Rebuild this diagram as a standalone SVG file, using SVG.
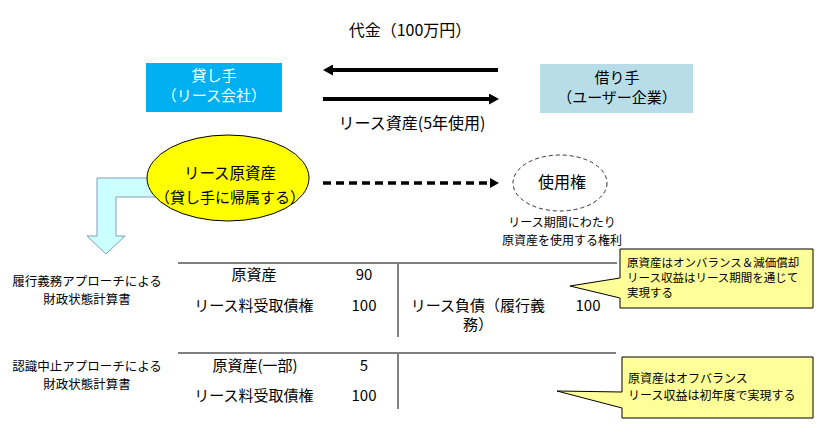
<svg xmlns="http://www.w3.org/2000/svg" width="822" height="427" viewBox="0 0 822 427">
<defs>
<style>
text{font-family:"Noto Sans CJK JP","Noto Sans",sans-serif;fill:#000;}
.c{text-anchor:middle;}
.f16{font-size:16px;}
.f15{font-size:15px;}
.f13{font-size:12.5px;}
.f12{font-size:12px;}
.w{fill:#fff;}
.arr{stroke:#000;stroke-width:4;fill:none;}
.tbl{stroke:#808080;stroke-width:2;fill:none;}
.call{fill:#FFFF99;stroke:#000;stroke-width:1;}
</style>
<marker id="ah" viewBox="0 0 10 11" refX="0" refY="5.5" markerWidth="10" markerHeight="11" markerUnits="userSpaceOnUse" orient="auto">
<path d="M0,0 L10,5.5 L0,11 Z" fill="#000"/>
</marker>
<marker id="ahs" viewBox="0 0 9 10" refX="0" refY="5" markerWidth="9" markerHeight="10" markerUnits="userSpaceOnUse" orient="auto">
<path d="M0,0 L9,5 L0,10 Z" fill="#000"/>
</marker>
</defs>
<rect width="822" height="427" fill="#fff"/>

<g id="connectors">
<line class="arr" x1="498" y1="70" x2="333" y2="70" marker-end="url(#ah)"/>
<line class="arr" x1="323" y1="99" x2="489" y2="99" marker-end="url(#ah)"/>
<line x1="323" y1="183" x2="490" y2="183" stroke="#000" stroke-width="3.5" stroke-dasharray="8,5" marker-end="url(#ahs)"/>
<path id="bent-arrow" d="M165,178 L97,178 L97,236 L87,236 L106,254 L125,236 L116,236 L116,197 L165,197 Z" fill="#CCFFFF" stroke="#7F9FBF" stroke-width="1"/>
</g>

<g id="label-payment">
<text class="c f16" x="410" y="36">代金（100万円）</text>
</g>
<g id="label-asset">
<text class="c f16" x="412" y="129">リース資産(5年使用)</text>
</g>

<g id="lessor">
<rect x="146" y="63" width="136" height="49" fill="#00B0F0"/>
<text class="c f15 w" x="214" y="80.5">貸し手<tspan x="214" dy="20">（リース会社）</tspan></text>
</g>

<g id="lessee">
<rect x="540" y="64" width="153" height="49" fill="#B7DEE8"/>
<text class="c f15" x="617" y="82.5">借り手<tspan x="617" dy="20">（ユーザー企業）</tspan></text>
</g>

<g id="underlying-asset">
<ellipse cx="228" cy="178" rx="81" ry="43" fill="#FFFF00" stroke="#000" stroke-width="1"/>
<text class="c" style="font-size:15.5px" x="230" y="179">リース原資産<tspan x="230" dy="23.5" style="font-size:15px">（貸し手に帰属する）</tspan></text>
</g>

<g id="right-of-use">
<ellipse cx="560" cy="183" rx="47" ry="28" fill="none" stroke="#333" stroke-width="1" stroke-dasharray="4,3"/>
<text class="c f16" x="562" y="188">使用権</text>
<text class="c f12" x="562" y="226.5">リース期間にわたり<tspan x="562" dy="18">原資産を使用する権利</tspan></text>
</g>

<g id="table-performance">
<text class="c f13" x="87" y="285.5">履行義務アプローチによる<tspan x="87" dy="18">財政状態計算書</tspan></text>
<path class="tbl" d="M178,263 H617 M398,263 V337"/>
<text class="c f15" x="254" y="279.5">原資産</text>
<text class="c f15" x="364" y="279.5">90</text>
<text class="c f15" x="254" y="310.5">リース料受取債権</text>
<text class="c f15" x="364" y="310.5">100</text>
<text class="c f15" x="478" y="310.5">リース負債（履行義<tspan x="478" dy="19">務）</tspan></text>
<text class="c f15" x="588" y="310.5">100</text>
</g>

<g id="callout-performance">
<path class="call" d="M620,249 H813 V308 H620 V298 L570,286 L620,278 Z"/>
<text style="font-size:11.5px" x="627" y="266.8">原資産はオンバランス＆減価償却<tspan x="627" dy="15">リース収益はリース期間を通じて</tspan><tspan x="627" dy="15">実現する</tspan></text>
</g>

<g id="table-derecognition">
<text class="c f13" x="87" y="370.5">認識中止アプローチによる<tspan x="87" dy="18">財政状態計算書</tspan></text>
<path class="tbl" d="M178,353 H616 M398,353 V409"/>
<text class="c f15" x="255" y="370.5">原資産(一部)</text>
<text class="c f15" x="364" y="370.5">5</text>
<text class="c f15" x="254" y="400.5">リース料受取債権</text>
<text class="c f15" x="364" y="400.5">100</text>
</g>

<g id="callout-derecognition">
<path class="call" d="M622,357 H813 V418 H622 V408 L557,391 L622,392 Z"/>
<text class="f12" x="628" y="382.5">原資産はオフバランス<tspan x="628" dy="17">リース収益は初年度で実現する</tspan></text>
</g>
</svg>
